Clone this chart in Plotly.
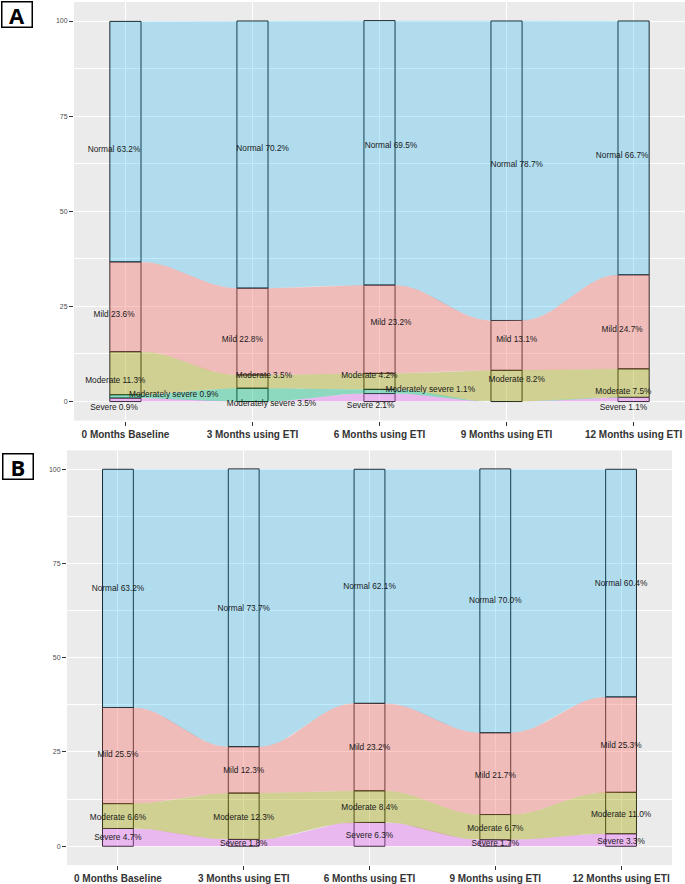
import numpy as np
import plotly.graph_objects as go

# time points (x axis)
time_labels = ['0 Months Baseline', '3 Months using ETI', '6 Months using ETI',
               '9 Months using ETI', '12 Months using ETI']
levels = ['Severe', 'Moderately severe', 'Moderate', 'Mild', 'Normal']  # stacked bottom -> top

# panel A, percent of patients per time point
a_severe = [0.9, 0.0, 2.1, 0.0, 1.1]
a_mod_severe = [0.9, 3.5, 1.1, 0.0, 0.0]
a_moderate = [11.3, 3.5, 4.2, 8.2, 7.5]
a_mild = [23.6, 22.8, 23.2, 13.1, 24.7]
a_normal = [63.2, 70.2, 69.5, 78.7, 66.7]

# panel B, percent of patients per time point
b_severe = [4.7, 1.8, 6.3, 1.7, 3.3]
b_mod_severe = [0.0, 0.0, 0.0, 0.0, 0.0]
b_moderate = [6.6, 12.3, 8.4, 6.7, 11.0]
b_mild = [25.5, 12.3, 23.2, 21.7, 25.3]
b_normal = [63.2, 73.7, 62.1, 70.0, 60.4]

# label placement (repelled labels in the original), y in data units, x as nudge from the bar
a_lab_y = [[-1.8, None, -1.1, None, -1.6],
           [1.8, -0.5, 3.1, None, None],
           [5.5, 6.8, 6.8, 5.8, 2.6],
           [22.8, 16.3, 20.7, 16.3, 18.9],
           [66.1, 66.4, 67.2, 62.2, 64.6]]
a_lab_dx = [[-0.09, 0, -0.07, 0, -0.08],
            [0.38, 0.15, 0.40, 0, 0],
            [-0.08, 0.09, -0.08, 0.08, -0.08],
            [-0.09, -0.08, 0.09, 0.08, -0.09],
            [-0.09, 0.08, 0.09, 0.08, -0.09]]
b_lab_y = [[2.1, 0.5, 2.7, 0.5, 1.1],
           [None] * 5,
           [7.4, 7.4, 10.1, 4.5, 8.2],
           [24.1, 19.9, 26.0, 18.6, 26.5],
           [68.2, 62.9, 68.7, 65.0, 69.5]]
b_lab_dx = [[0] * 5] * 5

colors = {'Mild': 'rgba(248,118,109,0.4)', 'Moderate': 'rgba(163,165,0,0.38)',
          'Moderately severe': 'rgba(0,191,125,0.4)', 'Normal': 'rgba(0,176,246,0.25)',
          'Severe': 'rgba(231,107,243,0.4)'}

BAR_W = 0.245
xpos = np.arange(1, len(time_labels) + 1)


def flow_band(lo, hi, n=40):
    # polygon of one alluvial band: flat across each stratum, s-curve between strata
    t = np.linspace(0, 1, n)
    s = (1 - np.cos(np.pi * t)) / 2
    xs, top, bot = [], [], []
    for i in range(len(xpos)):
        xs += [xpos[i] - BAR_W / 2, xpos[i] + BAR_W / 2]
        top += [hi[i], hi[i]]
        bot += [lo[i], lo[i]]
        if i < len(xpos) - 1:
            x0, x1 = xpos[i] + BAR_W / 2, xpos[i + 1] - BAR_W / 2
            xs += list(x0 + (x1 - x0) * t[1:-1])
            top += list(hi[i] + (hi[i + 1] - hi[i]) * s[1:-1])
            bot += list(lo[i] + (lo[i + 1] - lo[i]) * s[1:-1])
    return xs + xs[::-1], top + bot[::-1]


def add_panel(fig, series, lab_y, lab_dx, xa, ya):
    bottoms = np.zeros(len(xpos))
    stacks = []
    for vals in series:
        v = np.array(vals)
        stacks.append((bottoms.copy(), bottoms + v))
        bottoms = bottoms + v
    # flows
    for lev, (lo, hi) in zip(levels, stacks):
        if np.all(hi - lo == 0):
            continue
        px, py = flow_band(lo, hi)
        fig.add_trace(go.Scatter(x=px, y=py, fill='toself', fillcolor=colors[lev],
                                 mode='lines', line=dict(width=0), hoverinfo='skip',
                                 xaxis=xa, yaxis=ya))
    # strata outlines
    for lev, vals, (lo, hi) in zip(levels, series, stacks):
        fig.add_trace(go.Bar(x=xpos, y=[v if v > 0 else None for v in vals], base=lo,
                             width=BAR_W, marker=dict(color='rgba(0,0,0,0)',
                                                      line=dict(color='#1a1a1a', width=1)),
                             xaxis=xa, yaxis=ya, hoverinfo='skip'))
    # labels
    for k, (lev, vals) in enumerate(zip(levels, series)):
        lx, ly, lt = [], [], []
        for i, v in enumerate(vals):
            if lab_y[k][i] is None:
                continue
            lx.append(xpos[i] + lab_dx[k][i])
            ly.append(lab_y[k][i])
            lt.append(f'{lev} {v:.1f}%')
        fig.add_trace(go.Scatter(x=lx, y=ly, mode='text', text=lt, textposition='middle center',
                                 textfont=dict(size=8.3, color='#1a1a1a', family='Liberation Sans'),
                                 xaxis=xa, yaxis=ya, hoverinfo='skip'))


fig = go.Figure()
add_panel(fig, [a_severe, a_mod_severe, a_moderate, a_mild, a_normal], a_lab_y, a_lab_dx, 'x', 'y')
add_panel(fig, [b_severe, b_mod_severe, b_moderate, b_mild, b_normal], b_lab_y, b_lab_dx, 'x2', 'y2')

xaxis_style = dict(range=[0.595, 5.405], tickvals=list(xpos),
                   ticktext=[f'<b>{t}</b>' for t in time_labels],
                   tickfont=dict(size=10, color='#333333', family='Liberation Sans'),
                   ticks='outside', ticklen=4, tickcolor='#333333', showgrid=True,
                   gridcolor='white', gridwidth=1, zeroline=False, fixedrange=True)
yaxis_style = dict(range=[-5, 105], tickvals=[0, 25, 50, 75, 100],
                   tickfont=dict(size=7, color='#4d4d4d', family='Liberation Sans'),
                   ticks='outside', ticklen=4, tickcolor='#333333', showgrid=True,
                   gridcolor='white', gridwidth=1, zeroline=False,
                   minor=dict(tickvals=[12.5, 37.5, 62.5, 87.5], showgrid=True,
                              gridcolor='white', gridwidth=0.5))

fig.update_layout(
    width=685, height=884,
    margin=dict(l=0, r=0, t=0, b=0),
    paper_bgcolor='white', plot_bgcolor='#EBEBEB',
    showlegend=False, barmode='overlay',
    xaxis=dict(domain=[74 / 685, 1.0], anchor='y', **xaxis_style),
    yaxis=dict(domain=[1 - 422 / 884, 1 - 2 / 884], anchor='x', **yaxis_style),
    xaxis2=dict(domain=[67 / 685, 672 / 685], anchor='y2', **xaxis_style),
    yaxis2=dict(domain=[1 - 868 / 884, 1 - 452 / 884], anchor='x2', **yaxis_style),
)

# panel letters
for letter, xp, yp in [('A', 17, 15), ('B', 18, 468)]:
    fig.add_annotation(text=f'<b>{letter}</b>', xref='paper', yref='paper',
                       x=xp / 685, y=1 - yp / 884, xanchor='center', yanchor='middle',
                       showarrow=False, width=27, height=22,
                       font=dict(size=22, color='black', family='Open Sans'),
                       bordercolor='black', borderwidth=1.5, borderpad=1, bgcolor='white')

# drop the default page margin so the figure sits at the window corner
fig.write_html("out.html", config={'displayModeBar': False},
               post_script="document.body.style.margin='0px';")
